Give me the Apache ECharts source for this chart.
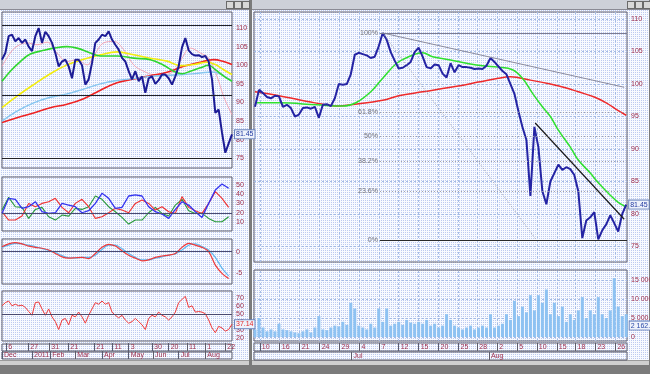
<!DOCTYPE html>
<html><head><meta charset="utf-8">
<script src="https://cdn.jsdelivr.net/npm/echarts@6/dist/echarts.min.js"></script>
<style>
html,body{margin:0;padding:0;}
body{width:650px;height:374px;background:#7b7b7b;position:relative;overflow:hidden;font-family:'Liberation Sans',Arial,sans-serif;}
.win{position:absolute;background-color:#f8faff;background-image:conic-gradient(#bccaf0 25%, #f8faff 0);background-size:2px 2px;}
.title{position:absolute;height:9px;background:#cdd0d8;border-bottom:1px solid #8a8a94;}
.btn{position:absolute;top:1px;width:6px;height:6px;background:#d8d8d8;border:1px solid #6a6a6a;}
.scroll{position:absolute;height:4px;background:#cfcfcf;border-top:1px solid #9a9a9a;}
#chart{position:absolute;left:0;top:0;width:650px;height:374px;}
</style></head>
<body>
<div class="win" style="left:0;top:0;width:249px;height:361px;"></div>
<div class="win" style="left:252px;top:0;width:397px;height:361px;"></div>
<div class="title" style="left:0;top:0;width:249px;"></div>
<div class="title" style="left:252px;top:0;width:397px;"></div>
<div class="btn" style="left:226px"></div><div class="btn" style="left:234px"></div><div class="btn" style="left:242px"></div>
<div class="btn" style="left:627px"></div><div class="btn" style="left:635px"></div><div class="btn" style="left:643px"></div>
<div class="scroll" style="left:0;top:360px;width:249px;"></div>
<div class="scroll" style="left:252px;top:360px;width:397px;"></div>
<div id="chart"></div>
<script>
// ---------------- LEFT WINDOW DATA (daily) ----------------
const leftClose = [101.5,103.3,107.8,108.2,106.4,107.3,106,106.9,105,103.8,
 107.8,110,106,109,107.8,106,103.3,99.7,101,101.5,
 99.7,96.5,101.5,101.5,100,94.8,96.2,100.6,106,106.9,
 108.2,107.8,109.1,106.9,105.5,104.2,102,101,98.4,96.2,
 98.4,95.7,97,92.6,96.5,97,95,96,97.5,97.5,
 96.5,94.8,97,99.7,104.8,107.3,104,103,102.6,102.7,
 102.2,102.5,101,96.2,87.2,88.1,81.9,76.5,79,81.45];
const leftMaPink = [[0,99.7],[2.5,103.3],[4.5,105.1],[7.5,106],[10.5,105.5],[13.5,106.2],[16.5,103.3],[19.5,101],[22.5,101.5],[25.5,100.1],[27.5,102.4],[30.5,106],[33.5,106.4],[36.5,104.2],[39.5,100.1],[42.5,98.4],[45.5,97.5],[48.5,97.5],[51.5,98.4],[54,101.9],[56.5,104.6],[59.5,103.3],[62,101.9],[64.5,97],[66.5,91.6],[69,86.7]];
const leftMaGreen = [[0,95.7],[2.5,98.4],[5.5,101],[8.5,103],[12.5,104],[15.5,104.6],[19.5,105],[22.5,104.6],[26.5,103.3],[29.5,102.5],[34.5,102.5],[39.5,101.9],[44.5,101.5],[48.5,100],[51.5,98.4],[54,97.7],[56.5,98.4],[59.5,99.3],[62,100],[64,98.8],[66.5,97.1],[69,95.7]];
const leftMaYellow = [[0,88.6],[4.5,91.7],[9.5,94.8],[14.5,97.7],[19.5,100.1],[24.5,101.6],[29.5,102.8],[34.5,103.6],[39.5,102.8],[44.5,101.9],[49.5,101.1],[53.5,99.9],[57.5,100.2],[61.5,100.8],[64,100.2],[66.5,98.8],[69,97.5]];
const leftMaLightBlue = [[0,85],[4.5,87.7],[9.5,89.9],[14.5,91.4],[19.5,92.3],[24.5,93.6],[29.5,95],[34.5,95.9],[39.5,96.4],[44.5,97],[49.5,97.3],[54.5,97.5],[59.5,97.9],[63,98.2],[65.5,97.7],[69,95.7]];
const leftMaRed = [[0,84.6],[4.5,85.9],[9.5,87.2],[14.5,88.6],[19.5,89.5],[24.5,91],[29.5,93.3],[34.5,95.3],[39.5,96.3],[44.5,97.2],[49.5,98.1],[54.5,99.7],[59.5,100.8],[63.5,101.5],[66.5,101],[69,100.2]];
const leftSupportLevels = [110.8, 92.0, 75.05];
// indicators, one value every 2 days
const adxBlue = [19.3,35.6,34.5,24.7,26.5,31.9,21.1,19.3,20,30.1,28.3,26.5,20,22.2,30.1,41,35.6,24.7,25.8,38.1,39.2,38.1,26.5,21.1,18.6,13.9,23.6,31.9,28.3,21.1,15,30.1,44.6,51,46.4];
const adxRed = [21.1,12.1,12.1,16.4,30.1,26.5,30.1,31.9,35.6,25.8,20,30.1,34.5,26.5,13.9,15.7,20,24.7,22.9,20,30.1,33.8,30.1,22.9,26.5,21.1,19.3,37.4,25.8,22.2,19.3,30.1,42.8,35.6,25.8];
const adxGreen = [22.9,36.6,26.5,25.8,13.9,23.6,25.8,15.7,12.1,17.5,16.4,24.7,23.6,26.5,38.1,34.5,26.5,21.1,15,7.8,12.1,12.1,20,25.8,19.3,16.4,28.3,34.5,22.2,19.3,19.3,13.9,10.3,10.3,15.7];
const macdRed = [1.15,1.8,2.1,1.8,1.3,1.0,0.8,0.4,-0.4,-1.2,-1.5,-1.4,-1.3,-1.6,-0.4,1.0,1.7,1.3,0.2,-0.8,-1.5,-2.1,-1.9,-1.3,-1.0,-0.8,-0.4,1.0,1.9,1.5,1.0,0,-3.1,-5,-6.2];
const macdBlue = [1.0,1.5,1.9,1.8,1.5,1.2,0.7,0.3,-0.2,-0.9,-1.4,-1.5,-1.3,-1.3,-0.8,0.5,1.5,1.5,0.7,-0.4,-1.3,-1.9,-1.9,-1.5,-1.2,-0.8,-0.5,0.4,1.5,1.8,1.2,0.4,-1.3,-3.8,-5.6];
const rsi = [60.4,64.4,66.4,60.4,62.4,60.4,61.2,58.4,53.2,48.4,
 64.4,65.2,56.4,48.4,56.4,46.4,40.4,30.4,42.4,44.4,
 36.4,48.4,46.4,52.4,46.4,38.4,48.4,56.4,64.4,62.4,
 66.4,62.4,64.4,52.4,48.4,45.2,48.4,42.4,38.4,40.4,
 44.4,40.4,36.4,30.4,44.4,48.4,46.4,52.4,48.4,46.4,
 42.4,46.4,52.4,64.4,68.4,72.4,58.4,60.4,52.4,53.2,
 52.4,50.4,42.4,32.4,26.4,34.4,32.4,28.4,30.4,37.14];
const adxLevel = 20, macdLevel = 0, rsiLevel = 50;
const leftPriceTicks = [75,80,85,90,95,100,105,110];
const adxTicks = [10,20,30,40,50];
const macdTicks = [-5,0];
const rsiTicks = [20,30,40,50,60,70];
const leftDayPos = [1.3,7.9,14.2,19.9,27.7,33.1,38,45,50,55.5,61,67];
const leftDayLabels = ['6','27','31','21','21','11','3','30','20','11','1','22'];
const leftMonthPos = [0,9,14.5,22,30,38,45.3,53,61];
const leftMonthLabels = ['Dec','2011','Feb','Mar','Apr','May','Jun','Jul','Aug'];

// ---------------- RIGHT WINDOW DATA (intraday) ----------------
const rightClose = [96.5,99.1,98.6,98.0,97.8,98.2,98.1,96.5,96.8,96.3,
 95.0,95.3,96.3,96.4,96.2,96.5,94.8,96.8,96.9,96.6,
 97.8,100.0,99.9,100.0,101.5,104.5,104.8,104.6,104.4,104.0,
 104.2,105.8,107.85,106.8,104.9,103.6,102.4,102.5,102.9,103.4,
 104.9,105.6,104.2,102.6,102.4,103.0,102.9,101.6,101.0,103.2,
 101.8,102.9,102.6,102.6,102.5,102.3,102.4,102.3,102.8,104.0,
 103.4,102.7,102.0,101.5,100.0,98.5,95.8,93.4,91.4,82.8,
 93.4,90.3,83.5,81.5,85.0,86.3,87.6,86.8,87.2,86.9,
 86.0,83.5,76.3,79.0,79.5,80.3,76.1,77.5,78.4,79.8,
 78.6,77.3,80.0,81.45];
const rightMaRed = [[0,98.8],[6,98.2],[15,97.1],[21,96.6],[24,96.8],[32,97.5],[36,98.2],[42,98.8],[49,99.5],[56,100.3],[61,100.9],[64,101.1],[69,100.6],[74,100.0],[78,99.4],[81,98.8],[85,98.0],[88,97.1],[91,95.9],[93,95.2]];
const rightMaGreen = [[0,97.1],[6,97.1],[15.5,96.8],[22,96.6],[25.5,97.2],[29,98.8],[32,100.9],[35.5,103.2],[38.5,104.2],[42,104.8],[44.5,104.2],[49,103.7],[53,103.2],[57,102.8],[61,102.6],[64.5,102.2],[67,100.9],[69.5,98.6],[72,96.5],[74,95],[76,92.9],[79,90.3],[81,88.3],[84,86.3],[86,84.8],[89,82.9],[91,81.8],[93,81.1]];
const rightVolume = [2000,5000,2500,1500,2000,1500,3500,2000,1800,1500,
 1200,1000,1500,2000,1200,2500,5500,2000,1800,2500,
 3000,2800,4000,3200,9000,7500,3000,2500,2000,3500,
 2500,7500,4000,7500,3000,3500,4000,3200,4500,3800,
 3500,4000,3500,4500,3000,3500,2500,3000,6000,4500,
 3000,2500,2000,2500,3000,2000,2500,3000,2500,6000,
 2500,3000,3500,6000,4500,9500,5500,8000,6500,11000,
 7000,11000,9000,12500,6000,9000,5500,8000,4000,6000,
 4500,7000,10500,5000,7000,6000,10500,6000,5000,7000,
 15500,8000,5500,6000];
const volumeBoxLabel = '2 162.5';
const fibHigh = 107.85, fibLow = 76.0, fibStart = 31.3;
const fibPcts = [100, 61.8, 50, 38.2, 23.6, 0];
const fibLabels = ['100%','61.8%','50%','38.2%','23.6%','0%'];
const trendGray = [[32,107.85],[92.5,99.5]];
const trendBlack = [[70.2,94.0],[92.5,79.2]];
const trendDotted = [[32,107.85],[70.5,76.0]];
const rightPriceTicks = [75,80,85,90,95,100,105,110];
const volTicks = [0,5000,10000,15000];
const volTickLabels = ['0','5 000.00','10 000.0','15 000.0'];
const rightDayPos = [1.2,6.2,11.2,16.2,21.2,26.2,31.2,36,41,46,51,55.7,60.7,65.7,70.6,75.6,80.3,85.3,90.3];
const rightDayLabels = ['10','16','21','24','29','4','7','12','15','20','25','28','2','5','10','15','18','23','26'];
const rightMonthPos = [24.2,58.6];
const rightMonthLabels = ['Jul','Aug'];

// ---------------- BUILD ----------------
const FONT = 'Liberation Sans';
const LBL = '#a0304c';
const BORDER = '#5c5c6c';
const lookup = (pos, labels) => v => { let b = 0; for (let i = 1; i < pos.length; i++) if (Math.abs(pos[i]-v) < Math.abs(pos[b]-v)) b = i; return labels[b]; };
const idx1 = arr => arr.map((v,i)=>[i,v]);
const idx2 = arr => arr.map((v,i)=>[2*i,v]);

const gridBoxes = [
 {left:2,top:12,width:230,height:156},
 {left:2,top:177,width:230,height:54},
 {left:2,top:239,width:230,height:45},
 {left:2,top:291,width:230,height:50},
 {left:2,top:344,width:230,height:7},
 {left:2,top:352,width:230,height:7},
 {left:254,top:12,width:373,height:250},
 {left:254,top:270,width:373,height:71},
 {left:254,top:343,width:373,height:8},
 {left:254,top:352,width:373,height:8}
];
const grid = gridBoxes.map(g => Object.assign({show:true,borderColor:BORDER,borderWidth:1,backgroundColor:'transparent',containLabel:false,outerBoundsMode:'none'}, g));

const LX = [0,69], RX = [-0.25,93.2];
function hiddenX(gi, ext){ return {gridIndex:gi,type:'value',min:ext[0],max:ext[1],show:false}; }
function stripX(gi, ext, pos, labels){
  return {gridIndex:gi,type:'value',min:ext[0],max:ext[1],position:'bottom',
    axisLine:{show:false}, splitLine:{show:false},
    axisTick:{show:true,inside:true,length:8,customValues:pos,lineStyle:{color:BORDER,width:1}},
    axisLabel:{show:true,inside:true,customValues:pos,formatter:lookup(pos,labels),align:'left',margin:0,padding:[0,0,0,2],
      fontSize:7,fontFamily:FONT,color:LBL}};
}
function paneY(gi,min,max,ticks,labels){
  return {gridIndex:gi,type:'value',min,max,position:'right',
    axisLine:{show:false},axisTick:{show:false},splitLine:{show:false},
    axisLabel:{show:true,customValues:ticks,formatter:labels?lookup(ticks,labels):(v=>String(v)),fontSize:7,fontFamily:FONT,color:LBL,margin:4}};
}
function hiddenY(gi){ return {gridIndex:gi,type:'value',min:0,max:1,show:false}; }

const xAxis = [hiddenX(0,LX),hiddenX(1,LX),hiddenX(2,LX),hiddenX(3,LX),
  stripX(4,LX,leftDayPos,leftDayLabels), stripX(5,LX,leftMonthPos,leftMonthLabels),
  hiddenX(6,RX),hiddenX(7,RX),
  stripX(8,RX,rightDayPos,rightDayLabels), stripX(9,RX,rightMonthPos,rightMonthLabels)];
const yAxis = [paneY(0,72.4,114.3,leftPriceTicks), paneY(1,0.3,58.6,adxTicks), paneY(2,-7.46,2.93,macdTicks), paneY(3,15.9,79.1,rsiTicks),
  hiddenY(4), hiddenY(5),
  paneY(6,72.62,111.08,rightPriceTicks), paneY(7,-1050,17630,volTicks,volTickLabels),
  hiddenY(8), hiddenY(9)];

function line(xi, yi, data, color, width, extra){
  return Object.assign({type:'line',xAxisIndex:xi,yAxisIndex:yi,data,symbol:'none',showSymbol:false,silent:true,
    lineStyle:{color,width},itemStyle:{color},animation:false}, extra||{});
}
function refLines(vals, color, type){
  return {silent:true,symbol:'none',animation:false,label:{show:false},lineStyle:{color,width:1,type:type||'solid'},data:vals.map(v=>({yAxis:v}))};
}
const boxLabel = (txt, color) => ({show:true,formatter:()=>txt,fontSize:7,fontFamily:FONT,color,backgroundColor:'#eef2fb',
  borderColor:'#6a84bd',borderWidth:1,padding:[1,1,0,1],distance:3});

const lastLeft = leftClose[leftClose.length-1].toFixed(2);
const lastRsi = rsi[rsi.length-1].toFixed(2);
const lastRight = rightClose[rightClose.length-1].toFixed(2);

const GRIDLINE = '#a4bbe4';
const rightGridLines = {silent:true,symbol:'none',animation:false,z:1,label:{show:false},
  lineStyle:{color:GRIDLINE,width:1,type:[2,2]},
  data: rightPriceTicks.map(v=>({yAxis:v})).concat(rightDayPos.map(v=>({xAxis:v})))};
const volGridLines = {silent:true,symbol:'none',animation:false,z:1,label:{show:false},
  lineStyle:{color:GRIDLINE,width:1,type:[2,2]},
  data: volTicks.map(v=>({yAxis:v})).concat(rightDayPos.map(v=>({xAxis:v})))};

const fibLines = {silent:true,symbol:'none',animation:false,
  label:{show:true,position:'start',formatter:'{b}',fontSize:7,fontFamily:FONT,color:'#707078',distance:2},
  data: fibPcts.map((p,i)=>{
    const lvl = fibLow + (fibHigh-fibLow)*p/100;
    const ls = p===100 ? {color:'#7c7c90',width:1,type:'solid'} : (p===0 ? {color:'#2a2a2a',width:1,type:'solid'} : {color:'#9a9aa4',width:1,type:[1,2]});
    return [{coord:[fibStart,lvl],name:fibLabels[i],lineStyle:ls},{coord:[RX[1],lvl]}];
  })};
const trendLines = {silent:true,symbol:'none',animation:false,label:{show:false},
  data:[
    [{coord:trendGray[0],lineStyle:{color:'#8a8a9c',width:1,type:'solid'}},{coord:trendGray[1]}],
    [{coord:trendBlack[0],lineStyle:{color:'#1a1a1a',width:1.2,type:'solid'}},{coord:trendBlack[1]}],
    [{coord:trendDotted[0],lineStyle:{color:'#9a9aa6',width:1,type:[1,2]}},{coord:trendDotted[1]}]
  ]};

const volData = rightVolume.map((v,i)=> i===rightVolume.length-1 ?
  {value:[i,v],label:{show:true,position:'right',formatter:()=>volumeBoxLabel,fontSize:7,fontFamily:FONT,color:'#2a4aa8',
    backgroundColor:'#eef2fb',borderColor:'#6a84bd',borderWidth:1,padding:[1,1,0,1],distance:2}} : [i,v]);

const series = [
  // left price pane
  line(0,0,leftMaPink,'#f2a6b6',1,{smooth:0.4}),
  line(0,0,leftMaRed,'#ee2222',1.6,{smooth:0.4}),
  line(0,0,leftMaLightBlue,'#86c6f0',1.4,{smooth:0.4}),
  line(0,0,leftMaYellow,'#f2ec10',1.6,{smooth:0.4}),
  line(0,0,leftMaGreen,'#2ed62e',1.6,{smooth:0.4}),
  line(0,0,idx1(leftClose),'#1c1c96',2,{endLabel:boxLabel(lastLeft,'#2038a0'),markLine:refLines(leftSupportLevels,'#222226')}),
  // ADX
  line(1,1,idx2(adxGreen),'#2a9a3a',1.1,{markLine:refLines([adxLevel],'#4a4a70')}),
  line(1,1,idx2(adxRed),'#f03030',1.1),
  line(1,1,idx2(adxBlue),'#3434f0',1.3),
  // MACD
  line(2,2,idx2(macdBlue),'#60b8f0',1.2,{smooth:0.3,markLine:refLines([macdLevel],'#4a4a70')}),
  line(2,2,idx2(macdRed),'#ee3a3a',1.2,{smooth:0.3}),
  // RSI
  line(3,3,idx1(rsi),'#f03a3a',1,{endLabel:boxLabel(lastRsi,'#e02828'),markLine:refLines([rsiLevel],'#4a4a70')}),
  // right price pane
  line(6,6,rightMaRed,'#ee2a2a',1.5,{smooth:0.4,markLine:rightGridLines}),
  line(6,6,rightMaGreen,'#2ee02e',1.5,{smooth:0.4,markLine:trendLines}),
  line(6,6,idx1(rightClose),'#2424a4',2,{endLabel:boxLabel(lastRight,'#2038a0'),markLine:fibLines}),
  // volume
  {type:'bar',xAxisIndex:7,yAxisIndex:7,data:volData,barWidth:3,silent:true,animation:false,
   itemStyle:{color:'#8ec2f2'},markLine:volGridLines}
];

const chart = echarts.init(document.getElementById('chart'), null, {renderer:'canvas',width:650,height:374});
chart.setOption({animation:false,backgroundColor:'transparent',grid,xAxis,yAxis,series});
</script>
</body></html>
